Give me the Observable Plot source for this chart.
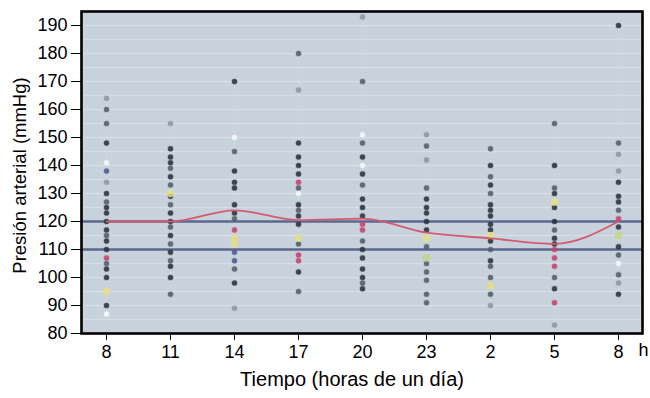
<!DOCTYPE html>
<html><head><meta charset="utf-8">
<script src="https://cdn.jsdelivr.net/npm/d3@7"></script>
<script src="https://cdn.jsdelivr.net/npm/@observablehq/plot@0.6"></script>
<style>
body{margin:0;background:#fff;}
#chart svg{display:block}
</style></head><body><div id="chart"></div>
<script>
// Hours of the day (x categories)
const hourLabels = ["8","11","14","17","20","23","2","5","8"];
// Mean (red curve)
const meanPressure = [120,120,124,120.5,121,116,114,112,120];
// Reference lines
const refLines = [110,120];
// Y ticks
const yTicks = [80,90,100,110,120,130,140,150,160,170,180,190];

// Individual readings per hour column (tone codes: D dark, M mid, F faint, W white, B blue, P pink, Y yellow, G green)
const h0 = [164,160,155,148,141,138,134,130,127,125,123,120,117,115,113,110,107,105,103,100,95,90,87];
const t0 = ["F","M","M","D","W","B","F","D","M","D","D","D","D","M","D","D","P","M","D","D","Y","D","W"];
const h1 = [155,146,143,141,139,136,133,130,129,126,123,120,118,115,112,109,106,104,100,94];
const t1 = ["F","D","D","D","M","D","M","Y","D","M","D","D","M","D","M","D","M","D","D","M"];
const h2 = [170,150,145,138,134,132,126,123,121,117,114,112,109,106,103,98,89];
const t2 = ["D","W","M","D","D","D","D","D","M","P","Y","Y","B","B","M","D","F"];
const h3 = [180,167,148,143,140,137,134,132,130,126,124,122,119,114,112,108,106,102,95];
const t3 = ["M","F","D","D","D","D","P","M","W","D","M","D","D","Y","M","P","P","D","M"];
const h4 = [193,170,151,148,143,140,137,133,128,125,122,119,117,113,110,107,103,100,98,96];
const t4 = ["F","M","W","M","D","W","D","M","D","D","D","P","P","M","D","D","D","D","M","D"];
const h5 = [151,147,142,132,128,125,123,120,117,114,111,107,105,102,99,94,91];
const t5 = ["F","M","F","M","D","D","D","D","D","Y","M","G","M","M","M","M","M"];
const h6 = [146,140,136,133,130,126,124,122,119,117,115,113,110,106,104,100,97,94,90];
const t6 = ["M","D","M","D","M","D","D","D","D","D","Y","D","M","D","M","M","Y","M","F"];
const h7 = [155,140,132,130,127,125,120,117,114,112,110,107,104,100,96,91,83];
const t7 = ["M","D","M","D","Y","D","D","M","D","D","P","P","P","M","D","P","F"];
const h8 = [190,148,144,138,134,129,127,124,121,118,115,111,108,105,101,98,94];
const t8 = ["D","M","F","F","D","D","D","M","P","D","G","D","M","W","M","F","D"];

const columns = [h0,h1,h2,h3,h4,h5,h6,h7,h8];
const tones = [t0,t1,t2,t3,t4,t5,t6,t7,t8];
const rows = columns.flatMap((vals,i)=>vals.map((v,j)=>({hour:i, value:v, tone:tones[i][j]})));
const spans = columns.map((vals,i)=>({hour:i, lo:d3.min(vals), hi:d3.max(vals)}));

const toneNames = ["D","M","F","W","B","P","Y","G"];
const toneColors = ["#2e343f","#565e6b","#8e97a3","#f5f7fa","#4c5c94","#c8436f","#e4de86","#c2d684"];

const big = new Set(["Y","G"]);
const chart = Plot.plot({
  width:650, height:398,
  marginTop:11, marginBottom:65, marginLeft:81, marginRight:8,
  style:{fontFamily:"'Liberation Sans', Arial, sans-serif", fontSize:"18px", color:"#000", background:"transparent"},
  x:{type:"point", domain:d3.range(9), padding:0.332, tickFormat:i=>hourLabels[i], tickSize:7, tickPadding:5, label:null},
  y:{domain:[80,195], ticks:yTicks, tickSize:10, tickPadding:4, label:null},
  color:{domain:toneNames, range:toneColors},
  marks:[
    Plot.frame({fill:"#c8d2dc"}),
    Plot.gridY(d3.range(80,196,5), {stroke:"#e6ebf1", strokeOpacity:0.45, strokeWidth:1.5}),
    Plot.ruleX(spans, {x:"hour", y1:"lo", y2:"hi", stroke:"#e8edf2", strokeOpacity:0.6, strokeDasharray:"1,3"}),
    Plot.ruleY(refLines, {stroke:"#5c678f", strokeWidth:2.4}),
    Plot.dot(rows.filter(d=>!big.has(d.tone)), {x:"hour", y:"value", fill:"tone", r:2.5, stroke:"tone", strokeOpacity:0.35, strokeWidth:1.2, fillOpacity:0.9}),
    Plot.dot(rows.filter(d=>big.has(d.tone)), {x:"hour", y:"value", fill:"tone", r:3.8, fillOpacity:0.85}),
    Plot.line(meanPressure, {x:(d,i)=>i, y:d=>d, stroke:"#d65a6e", strokeWidth:1.8, curve:"monotone-x"}),
    Plot.frame({stroke:"#000", strokeWidth:2.6}),
    Plot.text(["h"], {frameAnchor:"bottom-right", dx:6, dy:22, fontSize:18, fill:"#000"}),
    Plot.text(["Tiempo (horas de un día)"], {frameAnchor:"bottom", dx:-10, dy:52, fontSize:20, fill:"#000"}),
    Plot.text(["Presión arterial (mmHg)"], {frameAnchor:"left", textAnchor:"middle", dx:-61, dy:3, rotate:-90, fontSize:18.5, fill:"#000"})
  ]
});
document.getElementById("chart").append(chart);
</script></body></html>
